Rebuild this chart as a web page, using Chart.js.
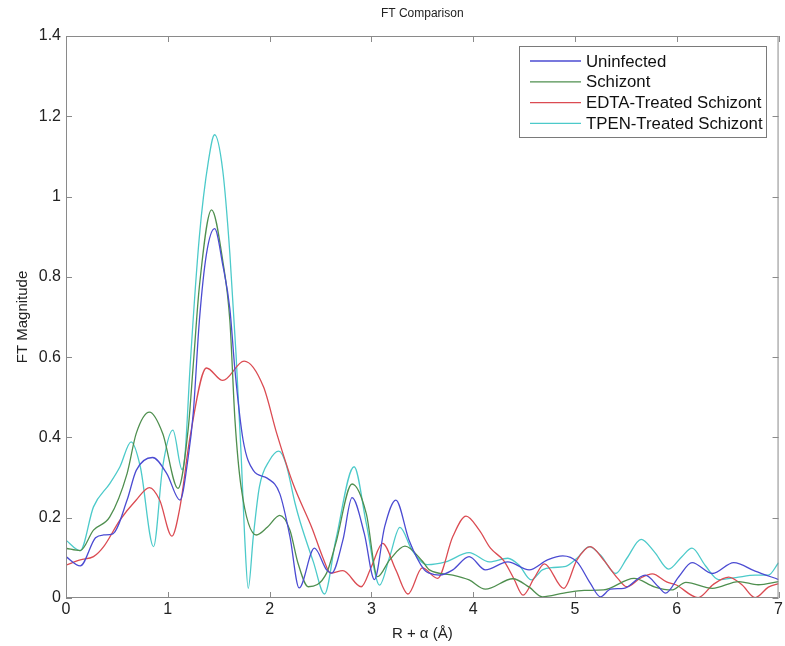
<!DOCTYPE html>
<html>
<head>
<meta charset="utf-8">
<script src="https://cdn.jsdelivr.net/npm/chart.js@4/dist/chart.umd.min.js"></script>
<style>
  html, body { margin: 0; padding: 0; background: #fff; }
  #ftChart { display: block; }
</style>
</head>
<body>
<canvas id="ftChart" width="785" height="646"></canvas>
<script>
// values
let xTicks = [0, 1, 2, 3, 4, 5, 6, 7];
let yTicks = [0, 0.2, 0.4, 0.6, 0.8, 1, 1.2, 1.4];

let uninfectedR = [0, 0.14, 0.29, 0.37, 0.46, 0.6, 0.69, 0.85, 0.99, 1.12, 1.2, 1.25, 1.31, 1.38, 1.46, 1.54, 1.61, 1.66, 1.74, 1.84, 1.98, 2.1, 2.2, 2.29, 2.44, 2.56, 2.61, 2.72, 2.81, 2.93, 3.03, 3.13, 3.24, 3.37, 3.52, 3.57, 3.67, 3.8, 3.96, 4.12, 4.34, 4.55, 4.73, 4.88, 5.02, 5.15, 5.25, 5.35, 5.48, 5.69, 5.82, 5.89, 6.02, 6.15, 6.35, 6.56, 6.77, 7];
let uninfectedFT = [0.103, 0.08, 0.15, 0.157, 0.16, 0.244, 0.318, 0.35, 0.31, 0.244, 0.35, 0.46, 0.69, 0.857, 0.92, 0.83, 0.72, 0.567, 0.393, 0.318, 0.298, 0.26, 0.153, 0.025, 0.124, 0.07, 0.062, 0.144, 0.25, 0.161, 0.046, 0.177, 0.244, 0.144, 0.07, 0.062, 0.057, 0.07, 0.103, 0.07, 0.09, 0.07, 0.095, 0.105, 0.09, 0.037, 0.003, 0.022, 0.024, 0.057, 0.028, 0.012, 0.053, 0.088, 0.061, 0.088, 0.067, 0.046];

let schizontR = [0, 0.14, 0.27, 0.43, 0.6, 0.69, 0.82, 0.95, 1.1, 1.2, 1.25, 1.31, 1.43, 1.54, 1.61, 1.66, 1.72, 1.87, 1.98, 2.1, 2.2, 2.28, 2.38, 2.56, 2.65, 2.81, 2.95, 3.06, 3.18, 3.33, 3.5, 3.57, 3.8, 3.96, 4.12, 4.39, 4.55, 4.68, 4.89, 5.09, 5.28, 5.58, 5.78, 5.95, 6.09, 6.35, 6.61, 6.8, 7];
let schizontFT = [0.124, 0.118, 0.169, 0.202, 0.31, 0.41, 0.463, 0.41, 0.273, 0.42, 0.58, 0.775, 0.967, 0.84, 0.69, 0.443, 0.277, 0.157, 0.177, 0.206, 0.169, 0.086, 0.028, 0.062, 0.136, 0.284, 0.21, 0.053, 0.095, 0.129, 0.092, 0.07, 0.057, 0.045, 0.022, 0.048, 0.027, 0.003, 0.012, 0.019, 0.02, 0.049, 0.028, 0.02, 0.039, 0.024, 0.041, 0.033, 0.041];

let edtaR = [0, 0.14, 0.27, 0.37, 0.53, 0.69, 0.82, 0.92, 1.04, 1.12, 1.22, 1.38, 1.54, 1.75, 1.94, 2.07, 2.23, 2.42, 2.52, 2.6, 2.72, 2.9, 3, 3.11, 3.24, 3.36, 3.5, 3.65, 3.8, 3.93, 4.06, 4.17, 4.3, 4.4, 4.49, 4.6, 4.7, 4.89, 5.02, 5.15, 5.28, 5.42, 5.51, 5.64, 5.76, 5.9, 5.99, 6.21, 6.36, 6.51, 6.64, 6.77, 6.9, 7];
let edtaFT = [0.082, 0.095, 0.103, 0.128, 0.194, 0.244, 0.275, 0.244, 0.154, 0.227, 0.403, 0.573, 0.542, 0.59, 0.526, 0.41, 0.285, 0.172, 0.103, 0.062, 0.068, 0.028, 0.078, 0.136, 0.07, 0.01, 0.075, 0.049, 0.153, 0.204, 0.169, 0.124, 0.093, 0.048, 0.007, 0.05, 0.085, 0.024, 0.095, 0.128, 0.095, 0.049, 0.028, 0.049, 0.06, 0.04, 0.033, 0.001, 0.034, 0.052, 0.033, 0.001, 0.027, 0.036];

let tpenR = [0, 0.14, 0.27, 0.43, 0.53, 0.64, 0.73, 0.86, 0.95, 1.05, 1.14, 1.17, 1.22, 1.31, 1.4, 1.46, 1.54, 1.61, 1.67, 1.72, 1.755, 1.79, 1.84, 1.9, 2, 2.09, 2.16, 2.25, 2.3, 2.43, 2.54, 2.65, 2.83, 2.95, 3.08, 3.18, 3.28, 3.4, 3.55, 3.73, 3.96, 4.16, 4.34, 4.45, 4.57, 4.68, 4.79, 4.91, 5.02, 5.14, 5.25, 5.4, 5.51, 5.65, 5.78, 5.92, 6.05, 6.15, 6.28, 6.41, 6.58, 6.77, 6.9, 7];
let tpenFT = [0.144, 0.118, 0.227, 0.285, 0.327, 0.389, 0.327, 0.128, 0.327, 0.418, 0.32, 0.36, 0.58, 0.9, 1.09, 1.154, 1.065, 0.857, 0.609, 0.36, 0.153, 0.024, 0.153, 0.277, 0.343, 0.366, 0.335, 0.236, 0.19, 0.09, 0.01, 0.144, 0.327, 0.186, 0.032, 0.103, 0.176, 0.119, 0.083, 0.09, 0.113, 0.09, 0.099, 0.082, 0.045, 0.07, 0.076, 0.079, 0.099, 0.128, 0.107, 0.061, 0.099, 0.146, 0.115, 0.072, 0.103, 0.124, 0.081, 0.046, 0.051, 0.057, 0.057, 0.088];

let seriesNames = ['Uninfected', 'Schizont', 'EDTA-Treated Schizont', 'TPEN-Treated Schizont'];
let seriesColors = ['#4b4bd2', '#4f8f4f', '#db4b52', '#4ccaca'];

function toPoints(xs, ys) {
    return xs.map(function(x, i) { return {x: x, y: ys[i]}; });
}

let seriesData = [
    toPoints(uninfectedR, uninfectedFT),
    toPoints(schizontR, schizontFT),
    toPoints(edtaR, edtaFT),
    toPoints(tpenR, tpenFT)
];

let fontFamily = '"Liberation Sans", Arial, Helvetica, sans-serif';

// MATLAB style box with inward ticks, title and legend
let matlabFrame = {
    id: 'matlabFrame',
    afterDraw: function(chart) {
        let ctx = chart.ctx;
        let a = chart.chartArea;
        let xs = chart.scales.x;
        let ys = chart.scales.y;
        ctx.save();
        ctx.strokeStyle = '#8a8a8a';
        ctx.lineWidth = 1;
        ctx.strokeRect(a.left + 0.5, a.top + 0.5, a.right - a.left - 1, a.bottom - a.top - 1);
        ctx.beginPath();
        xTicks.forEach(function(v) {
            let px = Math.round(xs.getPixelForValue(v)) + 0.5;
            ctx.moveTo(px, a.bottom); ctx.lineTo(px, a.bottom - 6);
            ctx.moveTo(px, a.top); ctx.lineTo(px, a.top + 6);
        });
        yTicks.forEach(function(v) {
            let py = Math.round(ys.getPixelForValue(v)) + 0.5;
            ctx.moveTo(a.left, py); ctx.lineTo(a.left + 6, py);
            ctx.moveTo(a.right, py); ctx.lineTo(a.right - 6, py);
        });
        ctx.stroke();

        // title
        ctx.fillStyle = '#222';
        ctx.font = '12px ' + fontFamily;
        ctx.textAlign = 'center';
        ctx.textBaseline = 'middle';
        ctx.fillText('FT Comparison', (a.left + a.right) / 2, 14);

        // legend
        let lx = 519.5, ly = 46.5, lw = 247, lh = 91;
        ctx.fillStyle = '#fff';
        ctx.fillRect(lx, ly, lw, lh);
        ctx.strokeStyle = '#7a7a7a';
        ctx.strokeRect(lx, ly, lw, lh);
        ctx.font = '16.8px ' + fontFamily;
        ctx.textAlign = 'left';
        chart.data.datasets.forEach(function(ds, i) {
            let cy = 61 + i * 20.8;
            ctx.strokeStyle = ds.borderColor;
            ctx.lineWidth = 1.3;
            ctx.beginPath();
            ctx.moveTo(530, cy); ctx.lineTo(581, cy);
            ctx.stroke();
            ctx.fillStyle = '#111';
            ctx.fillText(ds.label, 586, cy + 1);
        });
        ctx.restore();
    }
};

let ftChartCtx = document.getElementById('ftChart').getContext('2d');

let ftChart = new Chart(ftChartCtx, {
    type: 'line',
    data: {
        datasets: seriesNames.map(function(name, i) {
            return {
                label: name,
                data: seriesData[i],
                borderColor: seriesColors[i],
                backgroundColor: seriesColors[i],
                borderWidth: 1.3,
                pointRadius: 0,
                fill: false,
                cubicInterpolationMode: 'monotone'
            };
        })
    },
    options: {
        responsive: false,
        animation: false,
        devicePixelRatio: 1,
        layout: {
            padding: { top: 36, right: 3, left: 0, bottom: 0 }
        },
        scales: {
            x: {
                type: 'linear',
                min: 0,
                max: 7,
                afterBuildTicks: function(scale) {
                    scale.ticks = xTicks.map(function(v) { return {value: v}; });
                },
                afterFit: function(scale) {
                    scale.height = 48;
                },
                grid: { display: false, drawTicks: false },
                border: { display: false },
                ticks: {
                    color: '#222',
                    padding: 2,
                    maxRotation: 0,
                    autoSkip: false,
                    font: { family: fontFamily, size: 16 }
                },
                title: {
                    display: true,
                    text: 'R + α (Å)',
                    color: '#222',
                    padding: { top: 0, bottom: 3 },
                    font: { family: fontFamily, size: 15 }
                }
            },
            y: {
                min: 0,
                max: 1.4,
                afterBuildTicks: function(scale) {
                    scale.ticks = yTicks.map(function(v) { return {value: v}; });
                },
                afterFit: function(scale) {
                    scale.width = 66;
                },
                grid: { display: false, drawTicks: false },
                border: { display: false },
                ticks: {
                    color: '#222',
                    padding: 5,
                    autoSkip: false,
                    font: { family: fontFamily, size: 16 },
                    callback: function(value) {
                        return String(value);
                    }
                },
                title: {
                    display: true,
                    text: 'FT Magnitude',
                    color: '#222',
                    padding: { top: 14, bottom: 0 },
                    font: { family: fontFamily, size: 15 }
                }
            }
        },
        plugins: {
            legend: { display: false },
            title: { display: false },
            tooltip: { enabled: false }
        }
    },
    plugins: [matlabFrame]
});
</script>
</body>
</html>
